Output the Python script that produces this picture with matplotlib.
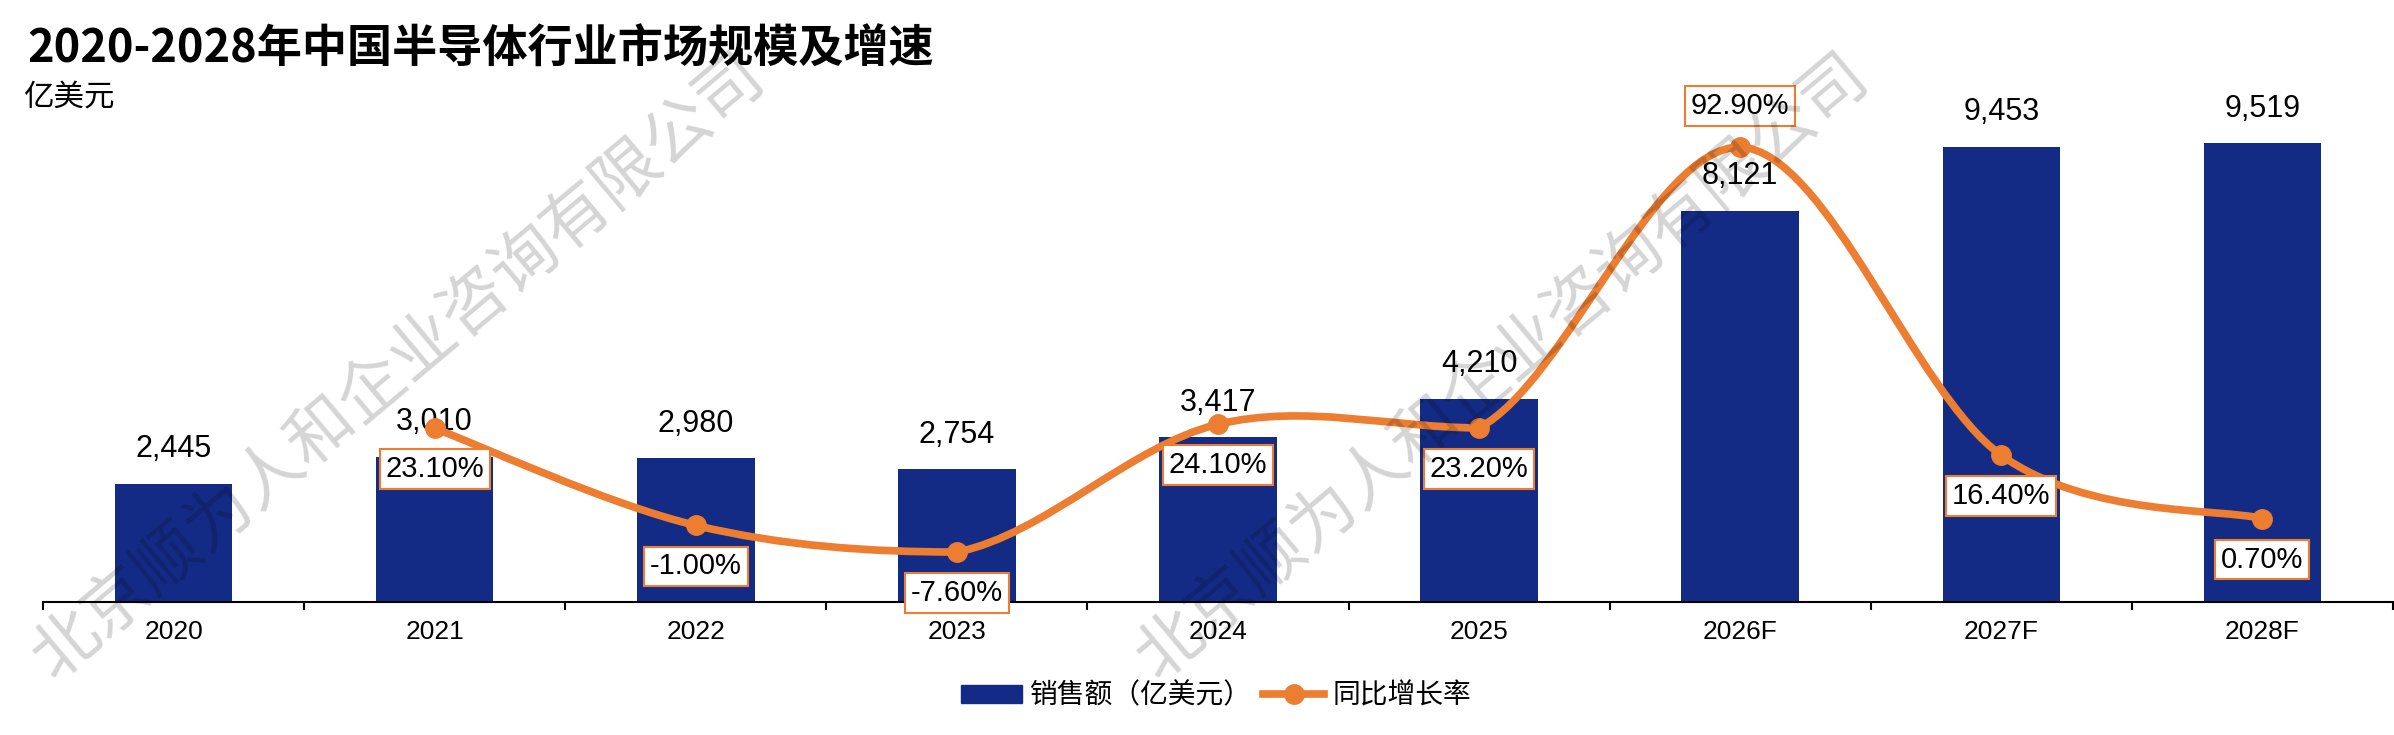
import numpy as np
import matplotlib
matplotlib.use('Agg')
import matplotlib.pyplot as plt
from matplotlib.path import Path
from matplotlib.patches import PathPatch, Patch
from matplotlib.lines import Line2D

plt.rcParams['font.family'] = ['Noto Sans CJK SC', 'DejaVu Sans']

# 数据
years = ['2020', '2021', '2022', '2023', '2024', '2025', '2026F', '2027F', '2028F']
sales = [2445, 3010, 2980, 2754, 3417, 4210, 8121, 9453, 9519]
growth = [23.1, -1.0, -7.6, 24.1, 23.2, 92.9, 16.4, 0.7]  # 2021 起

BAR_COLOR = '#142B85'
LINE_COLOR = '#ED7D31'
NUM_FONT = ['Liberation Sans', 'DejaVu Sans']
WATERMARK = '北京顺为人和企业咨询有限公司'


def smooth_path(axis, xs, ys):
    """Courbe lissée (Bezier) passant par les points, calculée en pixels."""
    pts = axis.transData.transform(np.column_stack([xs, ys]))
    n = len(pts)
    verts = [pts[0]]
    codes = [Path.MOVETO]
    for i in range(n - 1):
        p0 = pts[max(i - 1, 0)]
        p1 = pts[i]
        p2 = pts[i + 1]
        p3 = pts[min(i + 2, n - 1)]
        c1 = p1 + (p2 - p0) / 6
        c2 = p2 - (p3 - p1) / 6
        lo, hi = sorted([p1[1], p2[1]])
        c2[1] = np.clip(c2[1], lo, hi)
        verts += [c1, c2, p2]
        codes += [Path.CURVE4] * 3
    verts = axis.transData.inverted().transform(np.array(verts))
    return Path(verts, codes)


fig = plt.figure(figsize=(23.94, 7.35), dpi=100)
ax = fig.add_axes([0.01796, 0.18095, 0.98162, 0.72109])

x = np.arange(len(years))
ax.bar(x, sales, width=0.45, color=BAR_COLOR, zorder=2)
ax.set_xlim(-0.5, len(years) - 0.5)
ax.set_ylim(0, 11000)

for xi, v in zip(x, sales):
    ax.annotate(f'{v:,}', (xi, v), xytext=(0, 25), textcoords='offset points',
                ha='center', va='center', fontsize=22, family=NUM_FONT)

ax.set_xticks(x)
ax.set_xticklabels(years, fontsize=19, family=NUM_FONT)
ax.set_xticks(np.arange(len(years) + 1) - 0.5, minor=True)
ax.tick_params(axis='x', which='major', length=0, pad=13)
ax.tick_params(axis='x', which='minor', length=6, width=1.5, direction='out')
ax.set_yticks([])
for s in ['top', 'left', 'right']:
    ax.spines[s].set_visible(False)
ax.spines['bottom'].set_linewidth(1.5)

# Taux de croissance (axe secondaire)
ax2 = ax.twinx()
ax2.set_ylim(-20.0, 111.5)
ax2.axis('off')
gx = x[1:]
ax2.add_patch(PathPatch(smooth_path(ax2, gx, growth), fill=False,
                        edgecolor=LINE_COLOR, lw=5.5, capstyle='round', zorder=3))
ax2.plot(gx, growth, 'o', ms=14, color=LINE_COLOR, zorder=4)

peak = max(growth)
for xi, g in zip(gx, growth):
    dy = 29.5 if g == peak else -29.5
    ax2.annotate(f'{g:.2f}%', (xi, g), xytext=(0, dy), textcoords='offset points',
                 ha='center', va='center', fontsize=21, family=NUM_FONT, zorder=5,
                 bbox=dict(boxstyle='square,pad=0.2', fc='white', ec=LINE_COLOR, lw=1.5))

# Titre
fig.text(0.0113, 0.914, '2020-2028年中国半导体行业市场规模及增速',
         fontsize=32.5, fontweight='bold', va='baseline', ha='left')
fig.text(0.0096, 0.857, '亿美元', fontsize=22, va='baseline', ha='left')

# Légende
handles = [Patch(color=BAR_COLOR),
           Line2D([], [], color=LINE_COLOR, lw=5.5, marker='o', ms=14)]
fig.legend(handles, ['销售额（亿美元）', '同比增长率'], loc='center',
           bbox_to_anchor=(0.508, 0.054), ncol=2, frameon=False, fontsize=20,
           handlelength=2.2, handleheight=0.62, handletextpad=0.3, columnspacing=0.4)

# Filigrane
for fx, fy in [(0.167, 0.50), (0.628, 0.50)]:
    fig.text(fx, fy, WATERMARK, fontsize=48, color='black', alpha=0.17,
             rotation=40, rotation_mode='anchor', ha='center', va='center', zorder=10)

fig.savefig('out.png', dpi=100)
